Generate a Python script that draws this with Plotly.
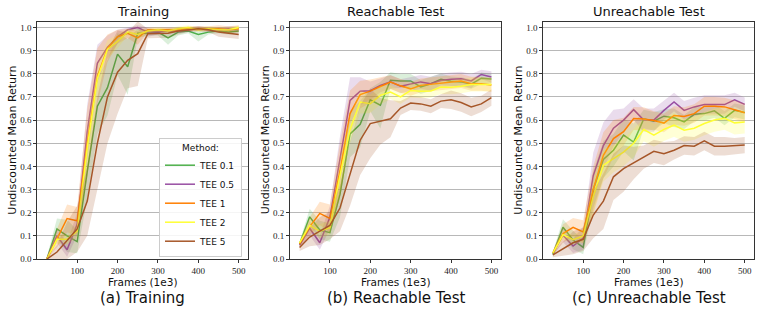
import plotly.graph_objects as go

frames = [25, 50, 75, 100, 125, 150, 175, 200, 225, 250, 275, 300, 325, 350, 375, 400, 425, 450, 475, 500]
methods = ["TEE 0.1", "TEE 0.5", "TEE 1", "TEE 2", "TEE 5"]
colors = ["#4daf4a", "#984ea3", "#ff7f00", "#ffff33", "#a65628"]
panel_titles = ["Training", "Reachable Test", "Unreachable Test"]
captions = ["(a) Training", "(b) Reachable Test", "(c) Unreachable Test"]
y_ticks = [0.0, 0.1, 0.2, 0.3, 0.4, 0.5, 0.6, 0.7, 0.8, 0.9, 1.0]
x_ticks = [100, 200, 300, 400, 500]

# ---- Training: mean and spread per method ----
train_tee01 = [0.0, 0.13, 0.10, 0.075, 0.38, 0.66, 0.74, 0.885, 0.83, 0.975, 0.975, 0.98, 0.955, 0.98, 0.985, 0.97, 0.98, 0.985, 0.98, 0.985]
train_tee05 = [0.0, 0.10, 0.04, 0.15, 0.55, 0.845, 0.915, 0.96, 0.99, 1.0, 0.98, 0.98, 0.985, 0.985, 0.99, 0.995, 0.99, 0.99, 0.995, 0.995]
train_tee1 = [0.0, 0.09, 0.175, 0.165, 0.50, 0.79, 0.91, 0.96, 0.975, 0.955, 0.99, 0.99, 0.99, 0.99, 0.995, 0.995, 0.995, 0.995, 0.99, 0.995]
train_tee2 = [0.0, 0.085, 0.085, 0.12, 0.48, 0.78, 0.905, 0.94, 0.98, 0.97, 0.985, 0.99, 0.985, 0.995, 1.0, 0.99, 0.995, 0.99, 0.99, 1.0]
train_tee5 = [0.0, 0.03, 0.08, 0.13, 0.25, 0.50, 0.70, 0.807, 0.858, 0.887, 0.973, 0.975, 0.975, 0.985, 0.99, 0.995, 0.99, 0.98, 0.975, 0.97]
train_sd01 = [0.01, 0.045, 0.07, 0.05, 0.12, 0.12, 0.12, 0.09, 0.12, 0.02, 0.01, 0.015, 0.03, 0.015, 0.01, 0.03, 0.01, 0.01, 0.01, 0.01]
train_sd05 = [0.005, 0.03, 0.03, 0.05, 0.12, 0.08, 0.05, 0.03, 0.01, 0.01, 0.02, 0.01, 0.01, 0.01, 0.01, 0.01, 0.01, 0.01, 0.01, 0.01]
train_sd1 = [0.01, 0.04, 0.06, 0.06, 0.15, 0.12, 0.06, 0.03, 0.02, 0.03, 0.01, 0.01, 0.01, 0.01, 0.01, 0.01, 0.01, 0.015, 0.015, 0.015]
train_sd2 = [0.005, 0.02, 0.02, 0.03, 0.08, 0.06, 0.04, 0.03, 0.015, 0.02, 0.01, 0.01, 0.01, 0.01, 0.01, 0.01, 0.01, 0.01, 0.01, 0.01]
train_sd5 = [0.01, 0.03, 0.08, 0.10, 0.15, 0.20, 0.20, 0.18, 0.12, 0.14, 0.02, 0.02, 0.02, 0.015, 0.01, 0.01, 0.01, 0.02, 0.02, 0.02]

# ---- Reachable Test ----
reach_tee01 = [0.065, 0.182, 0.125, 0.114, 0.28, 0.54, 0.582, 0.688, 0.664, 0.772, 0.769, 0.769, 0.743, 0.757, 0.776, 0.768, 0.765, 0.755, 0.781, 0.778]
reach_tee05 = [0.06, 0.133, 0.07, 0.18, 0.43, 0.685, 0.725, 0.727, 0.75, 0.765, 0.746, 0.755, 0.765, 0.757, 0.771, 0.776, 0.779, 0.769, 0.797, 0.786]
reach_tee1 = [0.065, 0.14, 0.197, 0.175, 0.38, 0.628, 0.71, 0.725, 0.745, 0.764, 0.748, 0.735, 0.75, 0.755, 0.76, 0.764, 0.769, 0.757, 0.757, 0.752]
reach_tee2 = [0.07, 0.145, 0.12, 0.135, 0.36, 0.56, 0.678, 0.671, 0.707, 0.721, 0.70, 0.728, 0.725, 0.726, 0.743, 0.742, 0.746, 0.754, 0.754, 0.754]
reach_tee5 = [0.05, 0.095, 0.12, 0.145, 0.22, 0.37, 0.513, 0.585, 0.595, 0.606, 0.652, 0.674, 0.67, 0.66, 0.682, 0.688, 0.676, 0.657, 0.67, 0.697]
reach_sd01 = [0.01, 0.035, 0.04, 0.04, 0.10, 0.10, 0.10, 0.05, 0.10, 0.035, 0.03, 0.03, 0.03, 0.03, 0.025, 0.02, 0.02, 0.02, 0.025, 0.02]
reach_sd05 = [0.01, 0.03, 0.03, 0.05, 0.10, 0.10, 0.06, 0.04, 0.03, 0.03, 0.03, 0.03, 0.03, 0.03, 0.03, 0.03, 0.03, 0.03, 0.02, 0.025]
reach_sd1 = [0.01, 0.04, 0.05, 0.06, 0.12, 0.10, 0.06, 0.05, 0.04, 0.03, 0.03, 0.03, 0.03, 0.03, 0.03, 0.03, 0.03, 0.03, 0.03, 0.03]
reach_sd2 = [0.01, 0.02, 0.03, 0.03, 0.08, 0.06, 0.05, 0.04, 0.04, 0.03, 0.03, 0.03, 0.03, 0.03, 0.03, 0.03, 0.03, 0.03, 0.03, 0.03]
reach_sd5 = [0.015, 0.04, 0.06, 0.06, 0.10, 0.14, 0.15, 0.15, 0.10, 0.08, 0.03, 0.03, 0.03, 0.03, 0.03, 0.04, 0.04, 0.04, 0.035, 0.035]

# ---- Unreachable Test ----
unre_tee01 = [0.02, 0.137, 0.082, 0.05, 0.30, 0.43, 0.47, 0.535, 0.505, 0.605, 0.595, 0.617, 0.61, 0.592, 0.625, 0.628, 0.64, 0.608, 0.642, 0.633]
unre_tee05 = [0.025, 0.103, 0.056, 0.09, 0.36, 0.49, 0.565, 0.60, 0.645, 0.60, 0.60, 0.642, 0.678, 0.642, 0.657, 0.667, 0.667, 0.667, 0.688, 0.668]
unre_tee1 = [0.025, 0.11, 0.137, 0.117, 0.30, 0.448, 0.52, 0.55, 0.607, 0.605, 0.598, 0.587, 0.62, 0.616, 0.628, 0.66, 0.66, 0.657, 0.645, 0.632]
unre_tee2 = [0.025, 0.105, 0.083, 0.10, 0.27, 0.405, 0.434, 0.462, 0.50, 0.559, 0.535, 0.56, 0.578, 0.556, 0.565, 0.585, 0.60, 0.608, 0.588, 0.592]
unre_tee5 = [0.018, 0.045, 0.07, 0.085, 0.19, 0.25, 0.355, 0.39, 0.415, 0.44, 0.465, 0.455, 0.47, 0.49, 0.487, 0.51, 0.487, 0.487, 0.488, 0.492]
unre_sd01 = [0.01, 0.035, 0.04, 0.03, 0.08, 0.08, 0.07, 0.07, 0.08, 0.04, 0.04, 0.03, 0.04, 0.03, 0.03, 0.03, 0.03, 0.03, 0.03, 0.03]
unre_sd05 = [0.01, 0.03, 0.03, 0.05, 0.10, 0.10, 0.08, 0.05, 0.045, 0.05, 0.05, 0.04, 0.04, 0.04, 0.04, 0.04, 0.04, 0.04, 0.03, 0.03]
unre_sd1 = [0.01, 0.04, 0.04, 0.05, 0.10, 0.10, 0.08, 0.06, 0.05, 0.05, 0.04, 0.04, 0.04, 0.04, 0.04, 0.04, 0.04, 0.04, 0.04, 0.04]
unre_sd2 = [0.01, 0.02, 0.02, 0.03, 0.08, 0.07, 0.06, 0.06, 0.06, 0.05, 0.05, 0.05, 0.05, 0.05, 0.05, 0.05, 0.05, 0.05, 0.05, 0.05]
unre_sd5 = [0.01, 0.03, 0.05, 0.05, 0.10, 0.12, 0.10, 0.10, 0.07, 0.05, 0.05, 0.05, 0.04, 0.04, 0.04, 0.04, 0.04, 0.04, 0.035, 0.035]

panels = [
    ([train_tee01, train_tee05, train_tee1, train_tee2, train_tee5],
     [train_sd01, train_sd05, train_sd1, train_sd2, train_sd5]),
    ([reach_tee01, reach_tee05, reach_tee1, reach_tee2, reach_tee5],
     [reach_sd01, reach_sd05, reach_sd1, reach_sd2, reach_sd5]),
    ([unre_tee01, unre_tee05, unre_tee1, unre_tee2, unre_tee5],
     [unre_sd01, unre_sd05, unre_sd1, unre_sd2, unre_sd5]),
]

W, H = 761, 315
plot_left = [37.3, 290.0, 543.3]
plot_width = 211.0
plot_top, plot_bottom = 21.7, 259.0


def rgba(hexc, a):
    h = hexc.lstrip("#")
    return "rgba(%d,%d,%d,%.2f)" % (int(h[0:2], 16), int(h[2:4], 16), int(h[4:6], 16), a)


fig = go.Figure()
for p, (means, sds) in enumerate(panels):
    xa = "x" if p == 0 else "x%d" % (p + 1)
    ya = "y" if p == 0 else "y%d" % (p + 1)
    for m, (name, col, mean, sd) in enumerate(zip(methods, colors, means, sds)):
        lo = [max(0.0, v - s) for v, s in zip(mean, sd)]
        hi = [v + s for v, s in zip(mean, sd)]
        fig.add_trace(go.Scatter(x=frames, y=lo, mode="lines", line=dict(width=0, color=col),
                                 showlegend=False, hoverinfo="skip", xaxis=xa, yaxis=ya))
        fig.add_trace(go.Scatter(x=frames, y=hi, mode="lines", line=dict(width=0, color=col),
                                 fill="tonexty", fillcolor=rgba(col, 0.2),
                                 showlegend=False, hoverinfo="skip", xaxis=xa, yaxis=ya))
        fig.add_trace(go.Scatter(x=frames, y=mean, mode="lines", name=name,
                                 line=dict(width=1.5, color=col),
                                 showlegend=(p == 0), xaxis=xa, yaxis=ya))

tick_font = dict(family="Liberation Serif", size=9, color="#222")
ydom = [(H - plot_bottom) / H, (H - plot_top) / H]
layout = dict(
    width=W, height=H, margin=dict(l=0, r=0, t=0, b=0, autoexpand=False),
    paper_bgcolor="white", plot_bgcolor="white",
    showlegend=True,
    legend=dict(
        x=242 / W, y=(H - 257) / H, xanchor="right", yanchor="bottom",
        bgcolor="rgba(255,255,255,0.85)", bordercolor="#cccccc", borderwidth=1,
        font=dict(family="DejaVu Sans", size=9, color="#111"),
        title=dict(text="Method:", side="top center", font=dict(family="DejaVu Sans", size=9)),
        tracegroupgap=0, itemwidth=30, traceorder="normal",
    ),
)
for p in range(3):
    sfx = "" if p == 0 else str(p + 1)
    x0 = plot_left[p] / W
    x1 = (plot_left[p] + plot_width) / W
    layout["xaxis" + sfx] = dict(
        domain=[x0, x1], range=[1.25, 523.75], tickvals=x_ticks,
        ticktext=[str(v) for v in x_ticks],
        showgrid=False, zeroline=False, showline=True, mirror=True,
        linecolor="#333", linewidth=1, ticks="outside", ticklen=3, tickcolor="#333",
        tickfont=tick_font, anchor="y" + sfx, automargin=False,
    )
    layout["yaxis" + sfx] = dict(
        domain=ydom, range=[0, 1.025], tickvals=y_ticks,
        ticktext=["%.1f" % v for v in y_ticks],
        showgrid=True, gridcolor="#b8b8b8", gridwidth=1, zeroline=False,
        showline=True, mirror=True, linecolor="#333", linewidth=1,
        ticks="outside", ticklen=3, tickcolor="#333",
        tickfont=tick_font, anchor="x" + sfx, automargin=False,
    )
fig.update_layout(**layout)

for p in range(3):
    cx = (plot_left[p] + plot_width / 2) / W
    fig.add_annotation(x=cx, y=(H - 12) / H, xref="paper", yref="paper", text=panel_titles[p],
                       showarrow=False, font=dict(family="DejaVu Sans", size=13, color="#111"),
                       xanchor="center", yanchor="middle")
    fig.add_annotation(x=cx, y=(H - 282) / H, xref="paper", yref="paper", text="Frames (1e3)",
                       showarrow=False, font=dict(family="DejaVu Sans", size=10.5, color="#111"),
                       xanchor="center", yanchor="middle")
    fig.add_annotation(x=cx, y=(H - 298) / H, xref="paper", yref="paper", text=captions[p],
                       showarrow=False, font=dict(family="DejaVu Sans", size=15, color="#111"),
                       xanchor="center", yanchor="middle")
    fig.add_annotation(x=(plot_left[p] - 25) / W, y=(H - (plot_top + plot_bottom) / 2) / H,
                       xref="paper", yref="paper", text="Undiscounted Mean Return", textangle=-90,
                       showarrow=False, font=dict(family="DejaVu Sans", size=11, color="#111"),
                       xanchor="center", yanchor="middle")

fig.write_html("out.html", config={"displayModeBar": False},
               post_script="document.body.style.margin='0';document.body.style.padding='0';")
